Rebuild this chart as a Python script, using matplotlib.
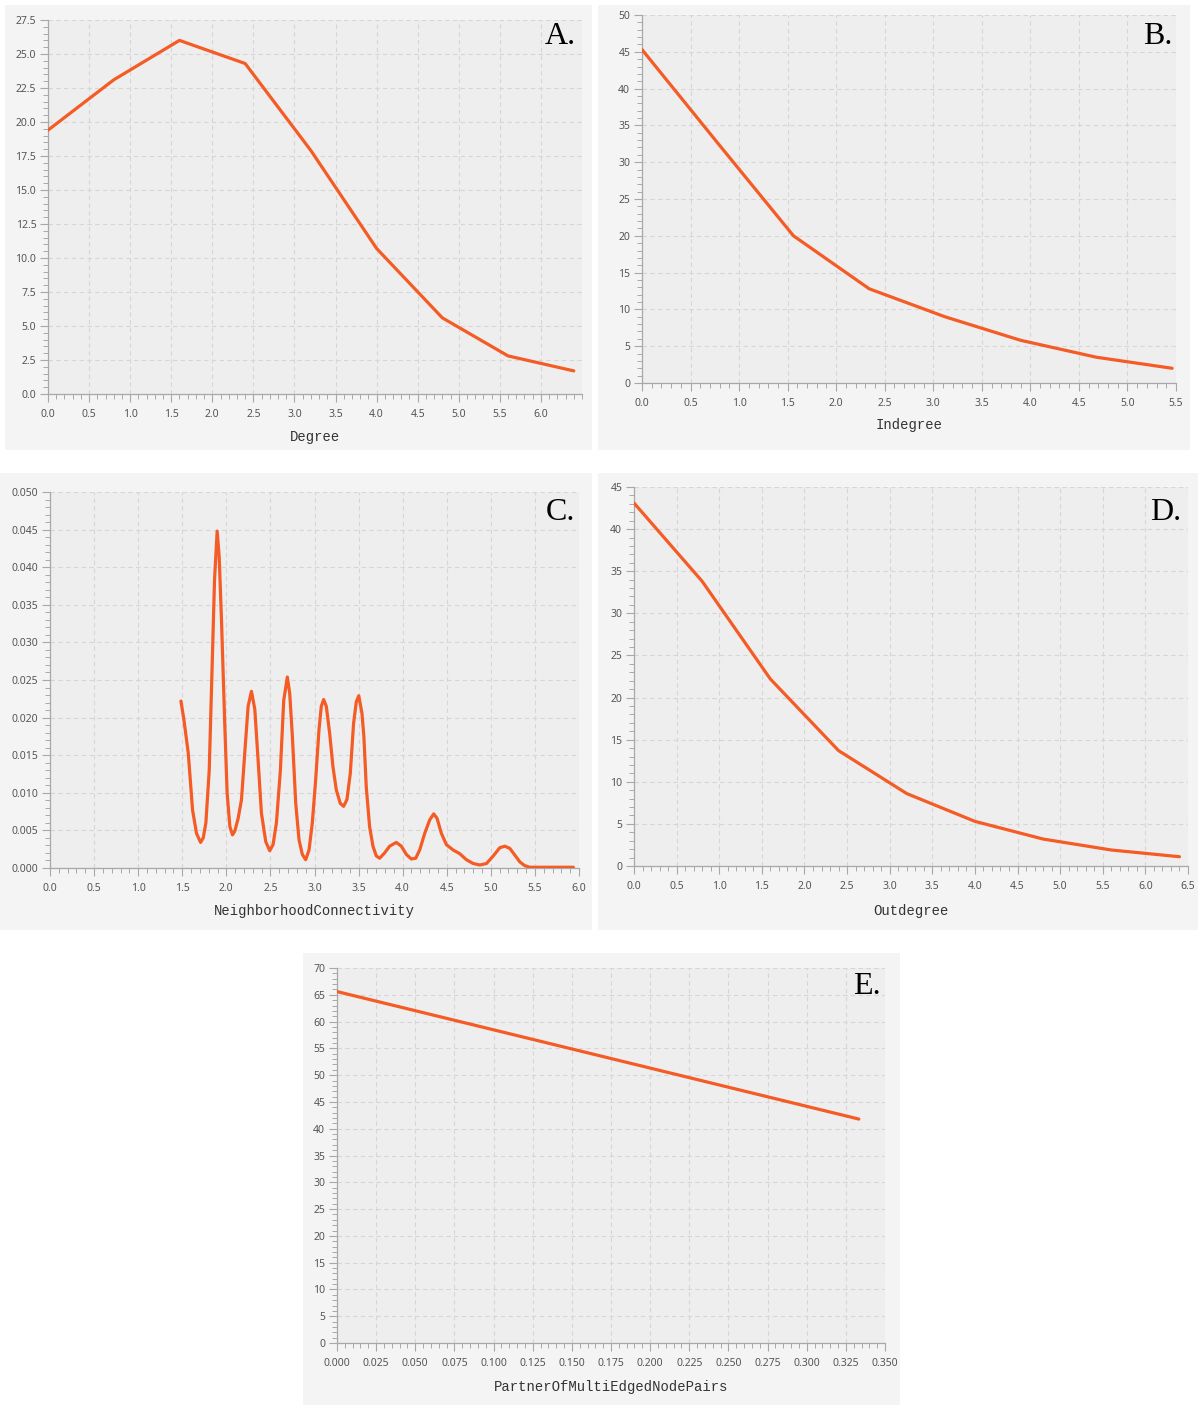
import numpy as np
import matplotlib
matplotlib.use('Agg')
import matplotlib.pyplot as plt
from matplotlib.patches import Rectangle
from matplotlib.ticker import AutoMinorLocator, FormatStrFormatter

W, H = 1198, 1405

# data
degree_x = [0.0, 0.8, 1.6, 2.4, 3.2, 4.0, 4.8, 5.6, 6.4]
degree_y = [19.4, 23.1, 26.0, 24.3, 17.9, 10.7, 5.6, 2.8, 1.7]

indegree_x = [0.0, 0.78, 1.56, 2.34, 3.12, 3.9, 4.68, 5.46]
indegree_y = [45.3, 32.6, 20.0, 12.8, 9.0, 5.8, 3.5, 2.0]

nc_x = [1.485, 1.519, 1.568, 1.617, 1.662, 1.708, 1.738, 1.768, 1.806, 1.843,
        1.866, 1.896, 1.919, 1.945, 1.983, 2.009, 2.040, 2.070, 2.096, 2.134,
        2.172, 2.209, 2.247, 2.285, 2.323, 2.360, 2.398, 2.447, 2.492, 2.530,
        2.568, 2.613, 2.651, 2.692, 2.719, 2.749, 2.787, 2.825, 2.862, 2.900,
        2.938, 2.975, 3.013, 3.051, 3.077, 3.104, 3.134, 3.172, 3.209, 3.247,
        3.292, 3.330, 3.368, 3.406, 3.443, 3.474, 3.502, 3.538, 3.560, 3.587,
        3.625, 3.663, 3.701, 3.739, 3.795, 3.852, 3.928, 3.985, 4.042, 4.098,
        4.148, 4.193, 4.250, 4.307, 4.352, 4.390, 4.439, 4.496, 4.572, 4.648,
        4.723, 4.799, 4.875, 4.951, 5.027, 5.102, 5.159, 5.216, 5.273, 5.330,
        5.386, 5.443, 5.936]
nc_y = [0.0222, 0.0197, 0.0153, 0.0077, 0.0046, 0.0034, 0.0040, 0.0060, 0.0130, 0.0285,
        0.0383, 0.0448, 0.0414, 0.0330, 0.0188, 0.0100, 0.0055, 0.0044, 0.0049, 0.0066,
        0.0091, 0.0153, 0.0215, 0.0235, 0.0211, 0.0144, 0.0073, 0.0035, 0.0023, 0.0031,
        0.0060, 0.0130, 0.0223, 0.0254, 0.0232, 0.0175, 0.0086, 0.0037, 0.0018, 0.0011,
        0.0024, 0.0060, 0.0117, 0.0184, 0.0215, 0.0224, 0.0215, 0.0179, 0.0135, 0.0104,
        0.0086, 0.0082, 0.0091, 0.0126, 0.0192, 0.0221, 0.0229, 0.0206, 0.0175, 0.0108,
        0.0055, 0.0029, 0.0016, 0.0013, 0.0020, 0.0029, 0.0034, 0.0029, 0.0018, 0.0012,
        0.0013, 0.0024, 0.0046, 0.0064, 0.0072, 0.0066, 0.0046, 0.0031, 0.0024, 0.0019,
        0.0011, 0.0006, 0.0004, 0.0006, 0.0016, 0.0027, 0.0029, 0.0026, 0.0017, 0.0008,
        0.0003, 0.0001, 0.0001]

outdegree_x = [0.0, 0.8, 1.6, 2.4, 3.2, 4.0, 4.8, 5.6, 6.4]
outdegree_y = [43.1, 33.8, 22.2, 13.7, 8.6, 5.3, 3.2, 1.9, 1.1]

partner_x = [0.0, 0.3333]
partner_y = [65.6, 41.8]

plt.rcParams['font.family'] = ['Noto Sans', 'DejaVu Sans']

LINE = '#f45b25'
OUTER = '#f4f4f4'
INNER = '#eeeeee'
AXC = '#a8a8a8'

panels = [
    dict(x=degree_x, y=degree_y, box=(5, 5, 592, 450), pos=(48, 20, 582, 394),
         xlim=(0, 6.5), xticks=np.arange(0, 6.01, 0.5), ylim=(0, 27.5),
         yticks=np.arange(0, 27.6, 2.5), xfmt='%.1f', yfmt='%.1f',
         label='Degree', label_y=437, letter='A.', letter_pos=(576, 37)),
    dict(x=indegree_x, y=indegree_y, box=(598, 5, 1190, 450), pos=(642, 15, 1176, 383),
         xlim=(0, 5.5), xticks=np.arange(0, 5.51, 0.5), ylim=(0, 50),
         yticks=np.arange(0, 51, 5), xfmt='%.1f', yfmt='%d',
         label='Indegree', label_y=425, letter='B.', letter_pos=(1172, 36)),
    dict(x=nc_x, y=nc_y, box=(0, 473, 592, 930), pos=(50, 492, 579, 868),
         xlim=(0, 6.0), xticks=np.arange(0, 6.01, 0.5), ylim=(0, 0.05),
         yticks=np.arange(0, 0.0501, 0.005), xfmt='%.1f', yfmt='%.3f',
         label='NeighborhoodConnectivity', label_y=911, letter='C.', letter_pos=(575, 513)),
    dict(x=outdegree_x, y=outdegree_y, box=(598, 473, 1198, 930), pos=(634, 487, 1188, 866),
         xlim=(0, 6.5), xticks=np.arange(0, 6.51, 0.5), ylim=(0, 45),
         yticks=np.arange(0, 46, 5), xfmt='%.1f', yfmt='%d',
         label='Outdegree', label_y=911, letter='D.', letter_pos=(1181, 513)),
    dict(x=partner_x, y=partner_y, box=(303, 953, 900, 1405), pos=(337, 968, 885, 1343),
         xlim=(0, 0.35), xticks=np.arange(0, 0.3501, 0.025), ylim=(0, 70),
         yticks=np.arange(0, 71, 5), xfmt='%.3f', yfmt='%d',
         label='PartnerOfMultiEdgedNodePairs', label_y=1387, letter='E.', letter_pos=(881, 987)),
]

fig = plt.figure(figsize=(W / 100, H / 100), dpi=100)
fig.patch.set_facecolor('white')

for p in panels:
    x0, y0, x1, y1 = p['box']
    fig.add_artist(Rectangle((x0 / W, 1 - y1 / H), (x1 - x0) / W, (y1 - y0) / H,
                             transform=fig.transFigure, facecolor=OUTER, edgecolor='none', zorder=0))
    l, t, r, b = p['pos']
    ax = fig.add_axes([l / W, 1 - b / H, (r - l) / W, (b - t) / H])
    ax.set_facecolor(INNER)
    ax.plot(p['x'], p['y'], color=LINE, linewidth=2.3, solid_joinstyle='round',
            solid_capstyle='round', zorder=3)
    ax.set_xlim(*p['xlim'])
    ax.set_ylim(*p['ylim'])
    ax.set_xticks(p['xticks'])
    ax.set_yticks(p['yticks'])
    ax.xaxis.set_minor_locator(AutoMinorLocator(5))
    ax.yaxis.set_minor_locator(AutoMinorLocator(5))
    ax.xaxis.set_major_formatter(FormatStrFormatter(p['xfmt']))
    ax.yaxis.set_major_formatter(FormatStrFormatter(p['yfmt']))
    ax.grid(True, which='major', color='#d6d6d6', linestyle=(0, (4, 3)), linewidth=0.8)
    ax.set_axisbelow(True)
    for s in ['top', 'right']:
        ax.spines[s].set_visible(False)
    for s in ['left', 'bottom']:
        ax.spines[s].set_color(AXC)
        ax.spines[s].set_linewidth(0.9)
    ax.tick_params(which='major', length=6, width=0.8, color=AXC, labelsize=7.5,
                   labelcolor='#555555')
    ax.tick_params(which='minor', length=3.5, width=0.7, color=AXC)
    ax.tick_params(axis='x', which='major', pad=5)
    ax.tick_params(axis='y', which='major', pad=2.5)
    ax.set_xlabel(p['label'], family='Liberation Mono', fontsize=10, color='#333333', va='center')
    ax.xaxis.set_label_coords(0.5, -(p['label_y'] - b) / (b - t))
    lx, ly = p['letter_pos']
    fig.text(lx / W, 1 - ly / H, p['letter'], family='Liberation Serif', fontsize=23,
             ha='right', va='center', color='black')

fig.savefig('out.png', dpi=100)
